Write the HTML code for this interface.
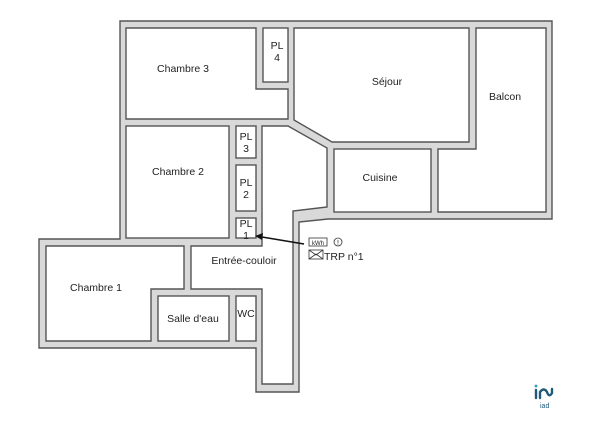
<!DOCTYPE html>
<html><head><meta charset="utf-8"><style>
html,body{margin:0;padding:0;background:#fff;}
svg{display:block;}
text{font-family:"Liberation Sans",sans-serif;font-size:10.5px;fill:#222;}
</style></head><body>
<svg width="600" height="434" viewBox="0 0 600 434" xmlns="http://www.w3.org/2000/svg">
<g stroke="#555" stroke-width="1.4" stroke-linejoin="miter">
<polygon fill="#d9d9d9" points="120,21 552,21 552,219 328,219 299,222 299,392 256,392 256,348 39,348 39,239 120,239"/>
<g fill="#fff">
<polygon points="126,28 256,28 256,89 288,89 288,119 126,119"/>
<rect x="263" y="28" width="25" height="54"/>
<rect x="126" y="126" width="103" height="112"/>
<rect x="236" y="126" width="20" height="32"/>
<rect x="236" y="165" width="20" height="46"/>
<rect x="236" y="218" width="20" height="20"/>
<polygon points="294,28 469,28 469,142 332,142 294,120"/>
<polygon points="476,28 546,28 546,212 438,212 438,149 476,149"/>
<rect x="334" y="149" width="97" height="63"/>
<polygon points="262,126 288,126 327,148 327,207 293,211 293,384 262,384 262,289 191,289 191,246 262,246"/>
<polygon points="46,246 184,246 184,289 151,289 151,341 46,341"/>
<rect x="158" y="296" width="71" height="45"/>
<rect x="236" y="296" width="20" height="45"/>
</g>
</g>
<g text-anchor="middle">
<text x="183" y="72">Chambre 3</text>
<text x="277" y="49">PL</text><text x="277" y="61">4</text>
<text x="178" y="175">Chambre 2</text>
<text x="246" y="140">PL</text><text x="246" y="152">3</text>
<text x="246" y="186">PL</text><text x="246" y="198">2</text>
<text x="246" y="227">PL</text><text x="246" y="239">1</text>
<text x="387" y="85">Séjour</text>
<text x="505" y="100">Balcon</text>
<text x="380" y="181">Cuisine</text>
<text x="244" y="264">Entrée-couloir</text>
<text x="96" y="291">Chambre 1</text>
<text x="193" y="322">Salle d'eau</text>
<text x="246" y="317">WC</text>
</g>
<line x1="304" y1="244" x2="262" y2="237" stroke="#111" stroke-width="1.4"/>
<polygon points="255,236 263,233 262,240" fill="#111"/>
<rect x="309" y="238" width="18" height="8" fill="none" stroke="#333" stroke-width="0.8"/>
<text x="318" y="245" text-anchor="middle" style="font-size:6px">kWh</text>
<circle cx="338" cy="242" r="4" fill="none" stroke="#333" stroke-width="0.8"/>
<text x="338" y="245" text-anchor="middle" style="font-size:7px">!</text>
<rect x="309" y="250" width="14" height="9" fill="none" stroke="#333" stroke-width="0.8"/>
<polyline points="309,250 316,255 323,250" fill="none" stroke="#333" stroke-width="0.8"/>
<polyline points="309,259 316,254 323,259" fill="none" stroke="#333" stroke-width="0.8"/>
<text x="324" y="260">TRP n°1</text>
<g fill="none" stroke="#1e5a7a" stroke-width="2.4" stroke-linecap="round">
<line x1="536" y1="390" x2="536" y2="398"/>
<path d="M540,398 L540,392 Q544,387 547,392 Q549,398 552,393 L552,389"/>
</g>
<circle cx="536" cy="386" r="1.4" fill="#2a9db8"/>
<text x="540" y="408" style="font-size:7px;fill:#1e5a7a">iad</text>
</svg>
</body></html>
